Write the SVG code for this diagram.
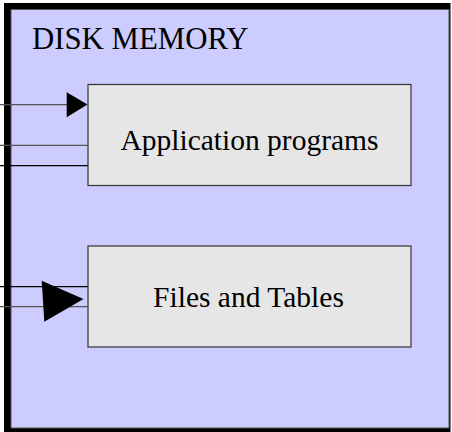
<svg xmlns="http://www.w3.org/2000/svg" width="452" height="432" viewBox="0 0 452 432">
<style>
.box{fill:#e6e6e6;stroke:#333;stroke-width:1.2}
.t{font-family:"Liberation Serif","Times New Roman",serif;fill:#000}
.ln{stroke:#000;stroke-width:1.2;fill:none}
.lg{stroke:#555;stroke-width:1.2;fill:none}
</style>
<rect width="452" height="432" fill="#fff"/>
<g id="disk-memory">
<rect x="4" y="3" width="446.5" height="429" fill="#000"/>
<rect x="11" y="9.5" width="438" height="418.5" fill="#ccccff" stroke="#555" stroke-width="1"/>
<text class="t" x="32" y="49" font-size="30.8">DISK MEMORY</text>
</g>
<g id="application-programs">
<rect class="box" x="88" y="84.5" width="323" height="101"/>
<text class="t" x="249.5" y="150" font-size="29.5" text-anchor="middle">Application programs</text>
</g>
<g id="files-and-tables">
<rect class="box" x="88" y="246" width="323" height="101"/>
<text class="t" x="248.5" y="306.7" font-size="29.5" text-anchor="middle">Files and Tables</text>
</g>
<g id="connectors">
<line class="lg" x1="0" y1="104.7" x2="70" y2="104.7"/>
<polygon points="66.7,92.3 66.7,117.3 87.5,104.5" fill="#000"/>
<line class="lg" x1="0" y1="145.3" x2="88" y2="145.3"/>
<line class="ln" x1="0" y1="165.7" x2="88" y2="165.7"/>
<line class="ln" x1="0" y1="286.7" x2="88" y2="286.7"/>
<line class="lg" x1="0" y1="306.7" x2="88" y2="306.7"/>
<polygon points="41.7,280.7 44.3,321.7 83.5,299" fill="#000"/>
</g>
</svg>
